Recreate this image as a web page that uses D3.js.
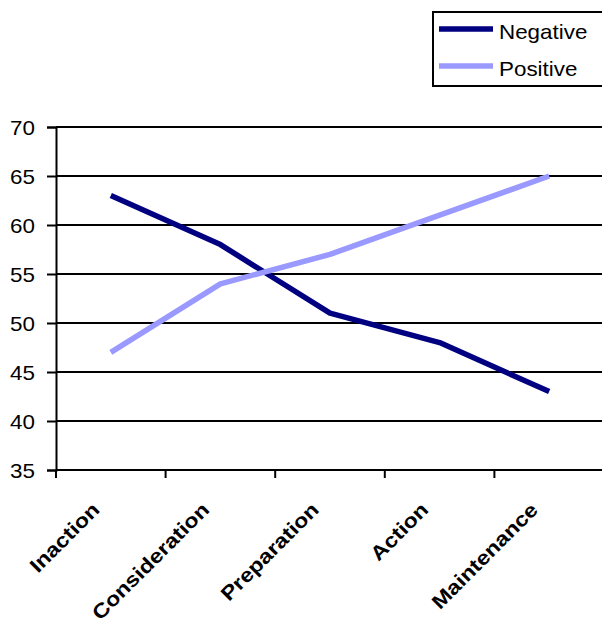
<!DOCTYPE html>
<html><head><meta charset="utf-8">
<script src="https://cdn.jsdelivr.net/npm/d3@7"></script>
<style>body{margin:0;background:#fff}svg{display:block;font-family:Arial,"Liberation Sans",sans-serif}</style>
</head><body><svg id="c" width="602" height="619"></svg>
<script>
const categories = ["Inaction","Consideration","Preparation","Action","Maintenance"];
const negative = [63, 58, 51, 48, 43];
const positive = [47, 54, 57, 61, 65];
const yTicks = [35,40,45,50,55,60,65,70];
const seriesNames = ["Negative","Positive"];
const seriesColors = ["#000080","#9999FF"];

(function(){
const svg = d3.select("#c");
const FONT = "Arial,'Liberation Sans',sans-serif";
const SX = 1.12;
const pL = 56, pR = 604, pT = 127, pB = 470;
const x = d3.scaleBand().domain(categories).range([pL,pR]);
const y = d3.scaleLinear().domain([35,70]).range([pB,pT]);

// gridlines
svg.append("g").selectAll("line").data(yTicks).join("line")
  .attr("x1",pL).attr("x2",pR)
  .attr("y1",d=>y(d)).attr("y2",d=>y(d))
  .attr("stroke","#000").attr("stroke-width",2);

// y axis
const ya = svg.append("g").attr("transform",`translate(${pL},0)`)
  .call(d3.axisLeft(y).tickValues(yTicks).tickSize(9).tickPadding(10));
ya.select(".domain").attr("stroke","#000").attr("stroke-width",2);
ya.selectAll(".tick line").attr("stroke","#000").attr("stroke-width",2);
ya.selectAll(".tick text").remove();
ya.selectAll(".tick").append("text")
  .attr("transform",`translate(-21,0) scale(${SX},1)`)
  .attr("text-anchor","end").attr("dy","0.36em")
  .attr("font-size",20).attr("font-family",FONT).attr("fill","#000")
  .text(d=>d);

// x axis ticks at category boundaries
const bounds = categories.map(c=>x(c)).concat([pR]);
svg.append("g").selectAll("line").data(bounds).join("line")
  .attr("x1",d=>d).attr("x2",d=>d).attr("y1",pB).attr("y2",pB+8)
  .attr("stroke","#000").attr("stroke-width",2);

// x labels
svg.append("g").selectAll("text").data(categories).join("text")
  .attr("transform",d=>`translate(${x(d)+x.bandwidth()/2-10},${pB+41}) rotate(-45) scale(1.16,1)`)
  .attr("text-anchor","end")
  .attr("font-size",20).attr("font-weight","bold").attr("font-family",FONT).attr("fill","#000")
  .text(d=>d);

// lines
const line = d3.line().x((d,i)=>x(categories[i])+x.bandwidth()/2).y(d=>y(d));
[negative,positive].forEach((s,k)=>{
  svg.append("path").datum(s).attr("d",line).attr("fill","none")
    .attr("stroke",seriesColors[k]).attr("stroke-width",5.5).attr("stroke-linejoin","round");
});

// legend
const lg = svg.append("g");
lg.append("rect").attr("x",433).attr("y",12).attr("width",180).attr("height",74)
  .attr("fill","#fff").attr("stroke","#000").attr("stroke-width",2);
seriesNames.forEach((n,k)=>{
  const yy = 29 + k*37;
  lg.append("line").attr("x1",439).attr("x2",493).attr("y1",yy).attr("y2",yy)
    .attr("stroke",seriesColors[k]).attr("stroke-width",5.5);
  lg.append("text").attr("transform",`translate(499,${yy+10}) scale(${SX},1)`)
    .attr("font-size",20).attr("font-family",FONT).attr("fill","#000").text(n);
});
})();
</script></body></html>
